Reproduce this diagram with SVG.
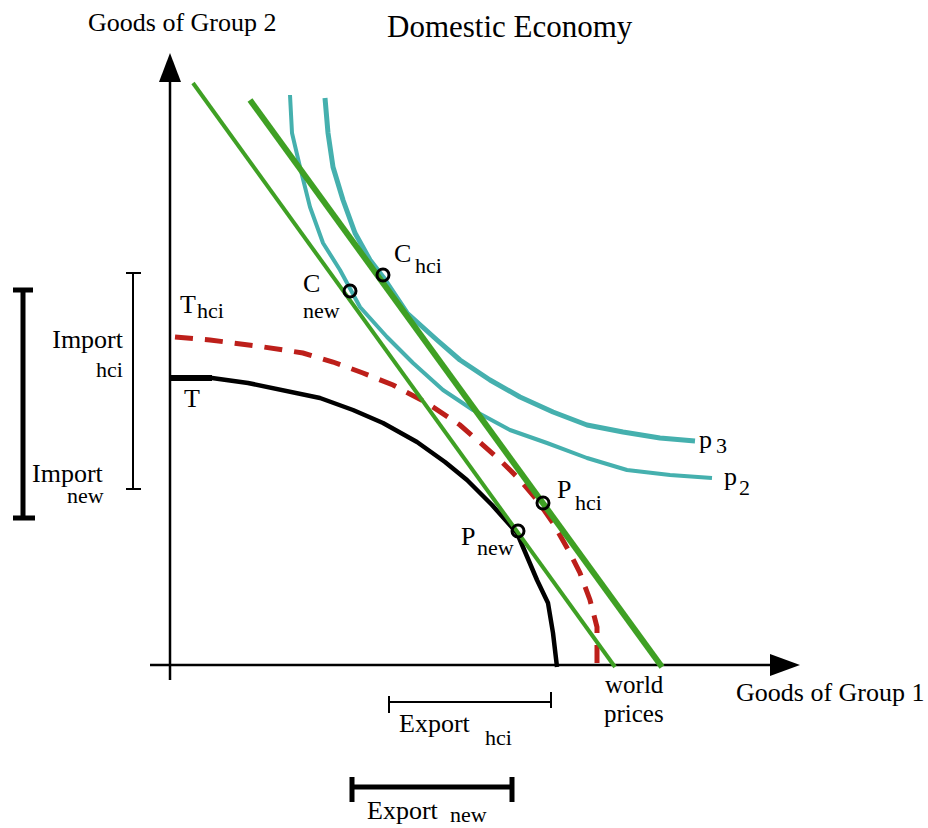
<svg xmlns="http://www.w3.org/2000/svg" width="928" height="828" viewBox="0 0 928 828" font-family="'Liberation Serif','Times New Roman',serif">
<style>
text{font-family:"Liberation Serif","Times New Roman",serif;fill:#000}
.lbl{font-size:26px}
.sub{font-size:22px}
.axis{stroke:#000;stroke-width:2.5;fill:none}
.bar{stroke:#000;fill:none}
.green{stroke:#3fa024;fill:none}
.teal{stroke:#45b0ae;fill:none;stroke-linejoin:round;stroke-linecap:butt}
.pt{fill:none;stroke:#000;stroke-width:3}
</style>
<rect width="928" height="828" fill="#fff"/>
<g id="title"><text x="387" y="37" style="font-size:31px">Domestic Economy</text></g>
<g id="axes">
<line class="axis" x1="170" y1="680" x2="170" y2="80"/>
<polygon points="170,53 159,82 181,82" fill="#000"/>
<line class="axis" x1="150" y1="665" x2="772" y2="665"/>
<polygon points="800,665 770,654 770,676" fill="#000"/>
<text class="lbl" x="88" y="31">Goods of Group 2</text>
<text class="lbl" x="736" y="701">Goods of Group 1</text>
</g>
<g id="curve-T">
<polyline fill="none" stroke="#000" stroke-width="4.5" stroke-linejoin="round" points="170,378 212,378 248,383 320,398 353,410 383,423 417,442 445,462 467,480 492,505 517,533 537,580 548,603 553,633 557,667"/>
<line x1="170" y1="378" x2="212" y2="378" stroke="#000" stroke-width="6"/>
<text class="lbl" x="184" y="407">T</text>
</g>
<g id="curve-Thci">
<polyline fill="none" stroke="#bd1f1a" stroke-width="5" stroke-dasharray="18 12" points="175,337 210,340 257,346 303,353 333,362 363,373 393,385 427,403 460,425 500,460 520,480 537,500 553,523 570,553 580,573 590,600 597,627 597,667"/>
<text class="lbl" x="180" y="313">T<tspan class="sub" x="197" y="318">hci</tspan></text>
</g>
<g id="indiff-p3">
<polyline class="teal" stroke-width="5" points="325,98 328,133 333,167 343,200 355,233 370,260 383,277 407,313 437,340 460,360 490,380 520,397 553,412 587,425 623,432 660,438 695,441"/>
<text class="lbl" x="699" y="448">p<tspan class="sub" x="716" y="453">3</tspan></text>
</g>
<g id="indiff-p2">
<polyline class="teal" stroke-width="4" points="290,95 292,133 300,167 310,207 323,243 340,270 360,307 387,337 413,363 443,390 473,410 510,430 547,443 587,458 627,470 670,475 712,478"/>
<text class="lbl" x="724" y="485">p<tspan class="sub" x="739" y="495">2</tspan></text>
</g>
<g id="connectors">
<line id="price-new" class="green" stroke-width="4" x1="193" y1="83" x2="615" y2="667"/>
<line id="price-hci" class="green" stroke-width="6" x1="250" y1="100" x2="662" y2="667"/>
</g>
<g id="world-prices"><text x="605" y="693" style="font-size:25px">world</text><text x="604" y="722" style="font-size:25px">prices</text></g>
<g id="C-new"><circle class="pt" cx="350" cy="291" r="6"/><text class="lbl" x="303" y="292">C</text><text class="sub" x="303" y="318">new</text></g>
<g id="C-hci"><circle class="pt" cx="383" cy="275" r="6"/><text class="lbl" x="394" y="262">C</text><text class="sub" x="415" y="273">hci</text></g>
<g id="P-hci"><circle class="pt" cx="543" cy="503" r="6"/><text class="lbl" x="557" y="498">P</text><text class="sub" x="575" y="510">hci</text></g>
<g id="P-new"><circle class="pt" cx="518" cy="531" r="6"/><text class="lbl" x="461" y="545">P</text><text class="sub" x="477" y="555">new</text></g>
<g id="import-hci">
<path class="bar" stroke-width="2" d="M133,273 V489 M126,273 H141 M126,489 H141"/>
<text class="lbl" x="123" y="348" text-anchor="end">Import</text>
<text class="sub" x="123" y="377" text-anchor="end">hci</text>
</g>
<g id="import-new">
<path class="bar" stroke-width="5" d="M23,290 V518 M13,290 H33 M13,518 H35"/>
<text class="lbl" x="32" y="482">Import</text>
<text class="sub" x="67" y="503">new</text>
</g>
<g id="export-hci">
<path class="bar" stroke-width="2" d="M389,702 H551 M389,696 V713 M551,692 V708"/>
<text class="lbl" x="399" y="732">Export</text>
<text class="sub" x="485" y="745">hci</text>
</g>
<g id="export-new">
<path class="bar" stroke-width="5" d="M352,787 H512 M352,777 V802 M512,777 V802"/>
<text class="lbl" x="367" y="819">Export</text>
<text class="sub" x="450" y="822">new</text>
</g>
</svg>
